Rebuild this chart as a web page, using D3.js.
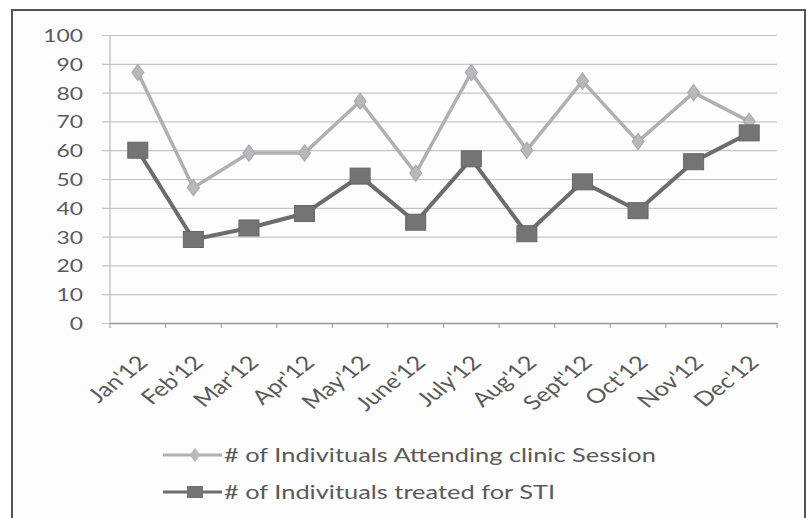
<!DOCTYPE html>
<html>
<head>
<meta charset="utf-8">
<script src="https://cdn.jsdelivr.net/npm/d3@7"></script>
<style>
  body { margin: 0; background: #fff; }
  svg { display: block; }
</style>
</head>
<body>
<div></div>
<script>
var months = ["Jan'12", "Feb'12", "Mar'12", "Apr'12", "May'12", "June'12",
              "July'12", "Aug'12", "Sept'12", "Oct'12", "Nov'12", "Dec'12"];
var attending = [87, 47, 59, 59, 77, 52, 87, 60, 84, 63, 80, 70];
var treated = [60, 29, 33, 38, 51, 35, 57, 31, 49, 39, 56, 66];
var yTicks = [0, 10, 20, 30, 40, 50, 60, 70, 80, 90, 100];
var legendNames = ["# of Indivituals Attending clinic Session", "# of Indivituals treated for STI"];

var width = 807;
var height = 518;
var plot = { left: 110, right: 777, top: 35, bottom: 323 };
var stretch = 1.27; // the scanned picture is wider than tall

var svg = d3.select('div').append('svg').attr('width', width).attr('height', height);

// chart frame
svg.append('rect')
    .attr('x', 12).attr('y', 10)
    .attr('width', 793).attr('height', 530)
    .attr('fill', '#fdfdfd')
    .attr('stroke', '#555').attr('stroke-width', 2);

var x = d3.scaleBand().domain(months).range([plot.left, plot.right]);
var y = d3.scaleLinear().domain([0, 100]).range([plot.bottom, plot.top]);
var cx = function (i) { return x(months[i]) + x.bandwidth() / 2; };

// gridlines + y axis
var yAxis = d3.axisLeft(y).tickValues(yTicks).tickSize(plot.right - plot.left + 8);
var gy = svg.append('g').attr('transform', 'translate(' + plot.right + ',0)').call(yAxis);
gy.select('.domain').remove();
gy.selectAll('.tick line').attr('stroke', '#c4c4c4').attr('stroke-width', 1.2);
gy.selectAll('.tick text')
    .attr('fill', '#5a5a5a')
    .attr('x', 0)
    .attr('dy', '0.36em')
    .attr('transform', 'translate(' + (83 - plot.right) + ',0) scale(' + stretch + ',1)')
    .style('font-family', 'Lato')
    .style('font-size', '18px');

svg.append('line')
    .attr('x1', plot.left).attr('x2', plot.left)
    .attr('y1', plot.top).attr('y2', plot.bottom)
    .attr('stroke', '#bbb').attr('stroke-width', 1.2);

// x axis
var xAxis = d3.axisBottom(x).tickSize(0).tickPadding(0);
var gx = svg.append('g').attr('transform', 'translate(0,' + plot.bottom + ')').call(xAxis);
gx.select('.domain').attr('stroke', '#999').attr('stroke-width', 1.5);
gx.selectAll('.tick text')
    .attr('fill', '#5a5a5a')
    .attr('y', 0)
    .attr('dy', '0.35em')
    .attr('text-anchor', 'end')
    .attr('transform', 'translate(5,36) scale(' + stretch + ',1) rotate(-45)')
    .style('font-family', 'Lato')
    .style('font-size', '20px');

var bounds = months.map(function (m) { return x(m); }).concat([plot.right]);
svg.append('g').selectAll('line').data(bounds).enter().append('line')
    .attr('x1', function (d) { return d; }).attr('x2', function (d) { return d; })
    .attr('y1', plot.bottom).attr('y2', plot.bottom + 5)
    .attr('stroke', '#999').attr('stroke-width', 1);

var line = d3.line()
    .x(function (d, i) { return cx(i); })
    .y(function (d) { return y(d); });

// attending series
svg.append('path').datum(attending)
    .attr('d', line).attr('fill', 'none')
    .attr('stroke', '#b0b0b0').attr('stroke-width', 3.5);
svg.append('g').selectAll('path').data(attending).enter().append('path')
    .attr('d', d3.symbol().type(d3.symbolDiamond).size(75))
    .attr('transform', function (d, i) { return 'translate(' + cx(i) + ',' + y(d) + ') scale(' + stretch + ',1)'; })
    .attr('fill', '#b9b9bd').attr('stroke', '#aaa');

// treated series
svg.append('path').datum(treated)
    .attr('d', line).attr('fill', 'none')
    .attr('stroke', '#6c6c6c').attr('stroke-width', 4);
svg.append('g').selectAll('rect').data(treated).enter().append('rect')
    .attr('x', function (d, i) { return cx(i) - 10; })
    .attr('y', function (d) { return y(d) - 8; })
    .attr('width', 20).attr('height', 16)
    .attr('fill', '#747474').attr('stroke', '#666');

// legend
var legendY = [455, 492];
var lg = svg.append('g');
lg.selectAll('line').data(legendY).enter().append('line')
    .attr('x1', 163).attr('x2', 222)
    .attr('y1', function (d) { return d; }).attr('y2', function (d) { return d; })
    .attr('stroke', function (d, i) { return i === 0 ? '#b0b0b0' : '#6c6c6c'; })
    .attr('stroke-width', 3);
lg.append('path')
    .attr('d', d3.symbol().type(d3.symbolDiamond).size(60))
    .attr('transform', 'translate(195,' + legendY[0] + ') scale(' + stretch + ',1)')
    .attr('fill', '#b9b9bd');
lg.append('rect')
    .attr('x', 187).attr('y', legendY[1] - 6)
    .attr('width', 16).attr('height', 12)
    .attr('fill', '#747474');
lg.selectAll('text').data(legendNames).enter().append('text')
    .attr('x', 0)
    .attr('dy', '0.35em')
    .attr('transform', function (d, i) { return 'translate(224,' + legendY[i] + ') scale(' + stretch + ',1)'; })
    .attr('fill', '#5a5a5a')
    .style('font-family', 'Lato')
    .style('font-size', '20px')
    .text(function (d) { return d; });
</script>
</body>
</html>
